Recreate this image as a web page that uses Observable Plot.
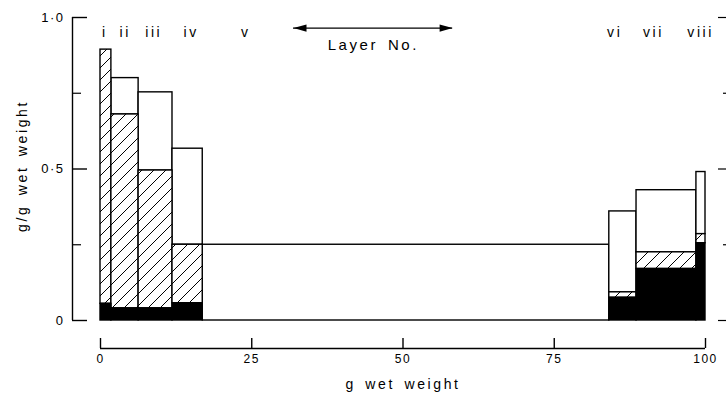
<!DOCTYPE html>
<html>
<head>
<meta charset="utf-8">
<script src="https://cdn.jsdelivr.net/npm/d3@7"></script>
<script src="https://cdn.jsdelivr.net/npm/@observablehq/plot@0.6"></script>
<style>
  html, body { margin: 0; padding: 0; background: #fff; }
  #chart svg { display: block; }
  #chart svg text { letter-spacing: 2.6px; word-spacing: 3px; }
  #chart svg g[aria-label$="tick label"] text { letter-spacing: 1.5px; }
</style>
</head>
<body>
<div id="chart"></div>
<script>
// Layers and their extent along the cumulative wet weight (g)
const layers      = ["i", "ii", "iii", "iv", "v", "vi", "vii", "viii"];
const layerStart  = [0, 1.8, 6.3, 11.9, 16.9, 84.1, 88.6, 98.5];
const layerEnd    = [1.8, 6.3, 11.9, 16.9, 84.1, 88.6, 98.5, 100];

// Components of each layer, g/g wet weight (bottom to top)
const solidPart   = [0.055, 0.04, 0.04, 0.057, 0, 0.075, 0.17, 0.255];
const hatchedPart = [0.839, 0.64, 0.455, 0.193, 0, 0.018, 0.055, 0.03];
const openPart    = [0, 0.12, 0.258, 0.317, 0.25, 0.267, 0.205, 0.205];

// Axis ticks
const xTicks = [0, 25, 50, 75, 100];
const yMajor = [0, 0.5, 1];
const yMinor = [0.25, 0.75];

// Stack the three components of every layer
const segments = [];
layers.forEach((layer, i) => {
  let base = 0;
  [["solid", solidPart[i]], ["hatched", hatchedPart[i]], ["open", openPart[i]]].forEach(([part, v]) => {
    if (v > 0) segments.push({layer, part, x1: layerStart[i], x2: layerEnd[i], y1: base, y2: base + v});
    base += v;
  });
});

// Where the layer numerals sit along the top (g wet weight)
const labelX = [0.7, 4.1, 8.8, 15.0, 24.0, 85.0, 91.4, 99.2];

// Filled arrowhead, tip at the origin, pointing right
const arrowHead = {
  draw(ctx) {
    ctx.moveTo(0, 0);
    ctx.lineTo(-13, -3.6);
    ctx.lineTo(-13, 3.6);
    ctx.closePath();
  }
};

const fmt = d => d === 0 ? "0" : d.toFixed(1).replace(".", "\u00b7");
const barStroke = {stroke: "black", strokeWidth: 1.4};

const chart = Plot.plot({
  width: 726,
  height: 394,
  marginTop: 17,
  marginBottom: 74,
  marginLeft: 100,
  marginRight: 21,
  x: {domain: [0, 100], label: null},
  y: {domain: [0, 1], label: null},
  style: {fontFamily: "'Liberation Sans', Arial, sans-serif", color: "#000", background: "#fff"},
  marks: [
    Plot.rect(segments.filter(d => d.part === "open"),
      {x1: "x1", x2: "x2", y1: "y1", y2: "y2", fill: "white", ...barStroke}),
    Plot.rect(segments.filter(d => d.part === "hatched"),
      {x1: "x1", x2: "x2", y1: "y1", y2: "y2", fill: "url(#hatch)", ...barStroke}),
    Plot.rect(segments.filter(d => d.part === "solid"),
      {x1: "x1", x2: "x2", y1: "y1", y2: "y2", fill: "black", ...barStroke}),

    // left axis, set off from the bars
    Plot.ruleX([0], {y1: 0, y2: 1, dx: -28, strokeWidth: 1.4}),
    Plot.axisY(yMajor, {anchor: "left", dx: -28, tickSize: -15, tickPadding: 23, strokeWidth: 1.4,
      tickFormat: fmt, fontSize: 13, label: null}),
    Plot.axisY(yMinor, {anchor: "left", dx: -28, tickSize: -9, strokeWidth: 1.2,
      tickFormat: () => "", label: null}),

    // right-hand ticks
    Plot.axisY(yMajor, {anchor: "right", dx: 21, tickSize: -9, strokeWidth: 1.2,
      tickFormat: () => "", label: null}),
    Plot.axisY(yMinor, {anchor: "right", dx: 21, tickSize: -4, strokeWidth: 1.2,
      tickFormat: () => "", label: null}),

    // bottom axis, dropped below the baseline
    Plot.ruleY([0], {x1: 0, x2: 100, dy: 28, strokeWidth: 1.4}),
    Plot.axisX(xTicks, {anchor: "bottom", dy: 28, tickSize: -10, tickPadding: 16, strokeWidth: 1.4,
      fontSize: 12, label: null}),

    // axis titles
    Plot.text(["g wet weight"], {frameAnchor: "bottom", dy: 68, fontSize: 14}),
    Plot.text(["g/g wet weight"], {frameAnchor: "left", textAnchor: "middle", dx: -78, dy: -3,
      rotate: -90, fontSize: 14}),

    // layer numerals
    Plot.text(layers, {x: labelX, frameAnchor: "top", dy: 10, fontSize: 14}),

    // "Layer No." with a double-headed arrow
    Plot.ruleY([0.965], {x1: 31.9, x2: 58.2, strokeWidth: 1.4}),
    Plot.dot([58.2], {x: d => d, y: 0.965, symbol: arrowHead, fill: "black", stroke: "none"}),
    Plot.dot([31.9], {x: d => d, y: 0.965, symbol: arrowHead, rotate: 180, fill: "black", stroke: "none"}),
    Plot.text(["Layer No."], {x: 45.1, y: 0.908, fontSize: 15})
  ]
});

// Diagonal hatching used by the middle component
const defs = document.createElementNS("http://www.w3.org/2000/svg", "defs");
defs.innerHTML = `<pattern id="hatch" patternUnits="userSpaceOnUse" width="12" height="12">
  <rect width="12" height="12" fill="white"/>
  <path d="M-3,3L3,-3M0,12L12,0M9,15L15,9" stroke="black" stroke-width="1"/>
</pattern>`;
chart.insertBefore(defs, chart.firstChild);

document.getElementById("chart").appendChild(chart);
</script>
</body>
</html>
